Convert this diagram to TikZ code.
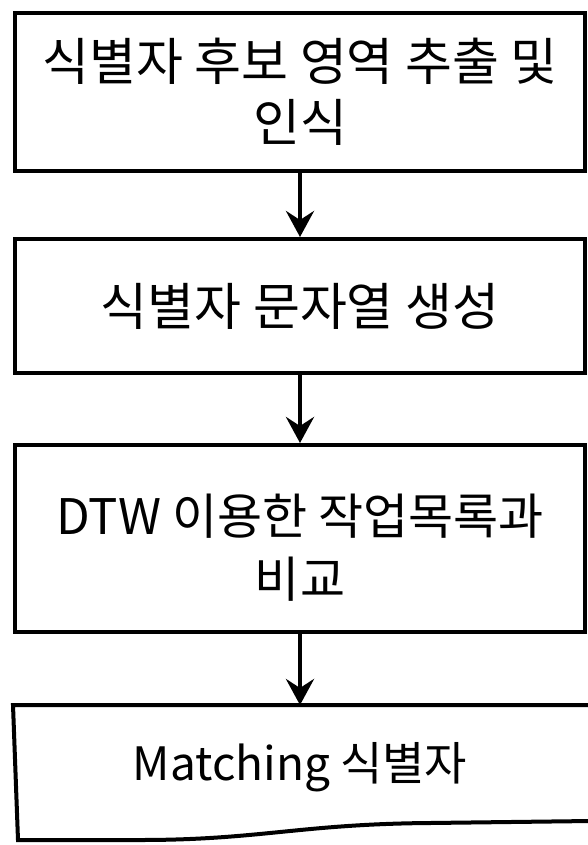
\documentclass[tikz,border=0pt]{standalone}
\usepackage{fontspec}
\setmainfont{Noto Sans CJK KR}
\usetikzlibrary{arrows.meta}
\tikzset{
  stepbox/.style={draw=black, line width=4pt, minimum width=570pt, inner sep=0pt, align=center,
    font=\fontsize{51}{61}\selectfont},
  flow/.style={draw=black, line width=4.5pt, -{Stealth[length=26pt,width=28pt,inset=9pt]}},
  doc/.style={draw=black, line width=4pt},
}
\begin{document}
\begin{tikzpicture}[x=1pt,y=-1pt]
\useasboundingbox (0,0) rectangle (588,845);
\node[stepbox, minimum height=158pt] (b1) at (300,92) {식별자 후보 영역 추출 및\\인식};
\node[stepbox, minimum height=134pt] (b2) at (300,306) {식별자 문자열 생성};
\node[stepbox, minimum height=187pt, font=\fontsize{49}{63}\selectfont] (b3) at (300,538.5) {\rule{0pt}{58pt}DTW 이용한 작업목록과\\비교};
\node[stepbox, draw=none, minimum height=120pt, anchor=north, font=\fontsize{46}{56}\selectfont] (b4) at (300,705) {Matching 식별자};
\draw[doc] (b4.north west) -- (591,705) -- (591,821) -- (430,823)
  .. controls (300,824) and (260,840) .. (140,840) -- (18,840) -- cycle;
\draw[flow] (b1.south) -- (b2.north);
\draw[flow] (b2.south) -- (b3.north);
\draw[flow] (b3.south) -- (b4.north);
\end{tikzpicture}
\end{document}
